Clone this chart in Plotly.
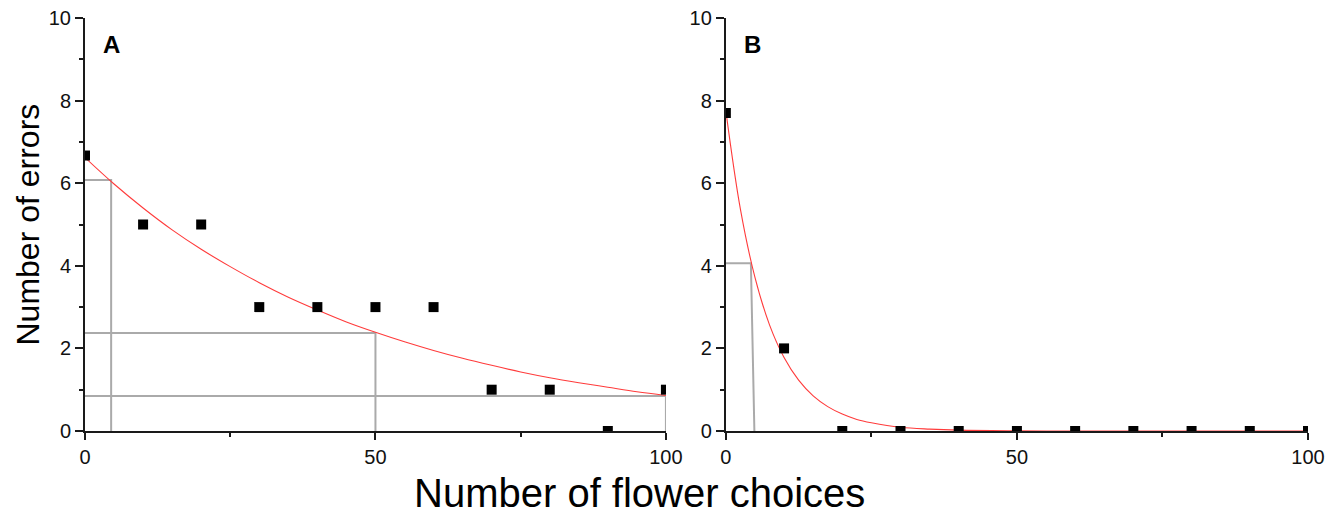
import plotly.graph_objects as go
from plotly.subplots import make_subplots

# ---- data ----
choices = [0, 10, 20, 30, 40, 50, 60, 70, 80, 90, 100]
errors_a = [6.67, 5, 5, 3, 3, 3, 3, 1, 1, 0, 1]
errors_b = [7.7, 2, 0, 0, 0, 0, 0, 0, 0, 0, 0]

# fitted curves
fit_a_x = [0, 5, 10, 15, 20, 25, 30, 35, 40, 45, 50, 55, 60, 65, 70, 75, 80, 85, 90, 95, 100]
fit_a_y = [6.62, 5.98, 5.40, 4.87, 4.40, 3.98, 3.59, 3.24, 2.93, 2.64, 2.39, 2.16, 1.95,
           1.76, 1.59, 1.43, 1.29, 1.17, 1.06, 0.95, 0.86]
fit_b_x = [0, 2.5, 5, 7.5, 10, 12.5, 15, 17.5, 20, 22.5, 25, 30, 35, 40, 50, 60, 70, 80, 90, 100]
fit_b_y = [7.75, 5.37, 3.72, 2.57, 1.78, 1.23, 0.85, 0.59, 0.41, 0.28, 0.20, 0.09, 0.045,
           0.02, 0.005, 0, 0, 0, 0, 0]

# guide lines (drop lines)
guide_a = [
    ([0, 4.5, 4.5], [6.08, 6.08, 0]),
    ([0, 50, 50], [2.37, 2.37, 0]),
    ([0, 100, 100], [0.85, 0.85, 0]),
]
guide_b = [
    ([0, 4.3, 4.9], [4.06, 4.06, 0]),
]

x_ticks = [0, 50, 100]
y_ticks = [0, 2, 4, 6, 8, 10]
panel_labels = ["A", "B"]

RED = "#ff3b3b"
GRAY = "#aaaaaa"
AX = "#1a1a1a"
FONT = "Liberation Sans, Arial, sans-serif"

fig = make_subplots(rows=1, cols=2, horizontal_spacing=0.049)

for col, guides, fx, fy, ey in [(1, guide_a, fit_a_x, fit_a_y, errors_a),
                                (2, guide_b, fit_b_x, fit_b_y, errors_b)]:
    for gx, gy in guides:
        fig.add_trace(go.Scatter(x=gx, y=gy, mode="lines",
                                 line=dict(color=GRAY, width=2), showlegend=False,
                                 hoverinfo="skip"), row=1, col=col)
    fig.add_trace(go.Scatter(x=fx, y=fy, mode="lines", line_shape="spline",
                             line=dict(color=RED, width=1.1), showlegend=False),
                  row=1, col=col)
    fig.add_trace(go.Scatter(x=choices, y=ey, mode="markers",
                             marker=dict(symbol="square", size=10, color="black"),
                             showlegend=False), row=1, col=col)

axis_common = dict(showgrid=False, zeroline=False, showline=True, linecolor=AX,
                   linewidth=2, ticks="outside", tickcolor=AX, tickwidth=2,
                   automargin=False, ticklabeloverflow="allow",
                   tickfont=dict(family=FONT, size=20, color="#111"))

for col in (1, 2):
    fig.update_xaxes(range=[0, 100], tickvals=x_ticks, ticklen=7,
                     minor=dict(dtick=25, tick0=0, ticklen=4, ticks="outside",
                                tickcolor=AX, tickwidth=2),
                     row=1, col=col, **axis_common)
    fig.update_yaxes(range=[0, 10], tickvals=y_ticks, ticklen=8,
                     minor=dict(dtick=1, tick0=0, ticklen=4, ticks="outside",
                                tickcolor=AX, tickwidth=2),
                     row=1, col=col, **axis_common)

fig.update_xaxes(domain=[0, 0.475], row=1, col=1)
fig.update_xaxes(domain=[0.524, 1.0], row=1, col=2)

for i, lab in enumerate(panel_labels):
    xref = "x" if i == 0 else "x2"
    yref = "y" if i == 0 else "y2"
    fig.add_annotation(x=4.5, y=9.35, xref=xref, yref=yref, text="<b>%s</b>" % lab,
                       showarrow=False, font=dict(family=FONT, size=24, color="black"))

fig.add_annotation(x=0.453, y=-0.208, xref="paper", yref="paper", xanchor="center",
                   yanchor="bottom", text="Number of flower choices", showarrow=False,
                   font=dict(family=FONT, size=40, color="black"))
fig.add_annotation(x=-0.0474, y=0.5, xref="paper", yref="paper", xanchor="center",
                   yanchor="middle", text="Number of errors", textangle=-90,
                   showarrow=False, font=dict(family=FONT, size=32, color="black"))

# the page body adds an 8 px margin, so the figure is sized to the visible area
fig.update_layout(width=1328, height=510, paper_bgcolor="white", plot_bgcolor="white",
                  margin=dict(l=77, r=28, t=10, b=87), showlegend=False)

fig.write_html("out.html")
